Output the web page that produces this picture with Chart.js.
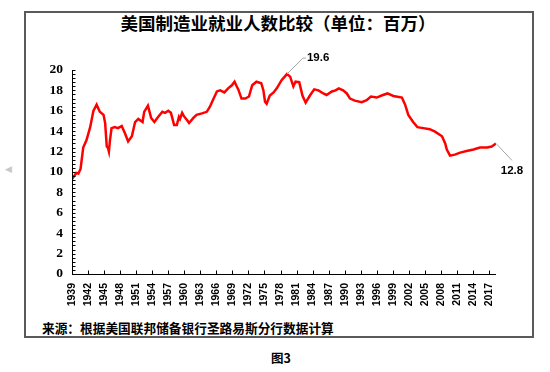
<!DOCTYPE html>
<html>
<head>
<meta charset="utf-8">
<script src="https://cdn.jsdelivr.net/npm/chart.js@4/dist/chart.umd.min.js"></script>
<style>
  html, body { margin:0; padding:0; background:#fff; }
  #wrap { position:relative; width:550px; height:372px; overflow:hidden; }
  #box { position:absolute; left:24px; top:11px; width:506px; height:323px; border:2px solid #5a5a5a; }
  #chart { position:absolute; left:0; top:0; }
  .t { position:absolute; white-space:nowrap; color:#000; }
  #title { left:0; width:556px; top:11px; text-align:center; font:700 17.5px "Noto Sans CJK SC", sans-serif; line-height:24px; }
  #src { left:42px; top:319px; font:700 12.7px "Noto Sans CJK SC", sans-serif; line-height:18px; }
  #cap { left:271px; top:350px; font:700 12.5px "Noto Sans CJK SC", sans-serif; line-height:16px; }
  #tri { left:5px; top:164px; font:9px "DejaVu Sans", sans-serif; color:#c8c8c8; }
</style>
</head>
<body>
<div id="wrap">
  <div id="box"></div>
  <div class="t" id="title">美国制造业就业人数比较（单位：百万）</div>
  <div class="t" id="src">来源：根据美国联邦储备银行圣路易斯分行数据计算</div>
  <div class="t" id="cap">图3</div>
  <div class="t" id="tri">◀</div>
  <canvas id="chart" width="550" height="372"></canvas>
</div>
<script>
// ---- data ----
const years = [
  1939.0,1939.4,1939.8,1940.2,1940.6,1941.1,1941.7,1942.4,1943.0,1943.6,
  1944.2,1944.9,1945.2,1945.5,1945.7,1945.9,1946.1,1946.4,1947.0,1947.6,
  1948.3,1948.9,1949.5,1950.2,1950.8,1951.4,1952.2,1952.5,1953.2,1953.8,
  1954.4,1955.1,1955.9,1956.4,1957.0,1957.5,1958.1,1958.6,1959.0,1959.2,
  1959.6,1959.9,1960.5,1960.9,1961.7,1962.3,1963.3,1964.2,1964.8,1965.4,
  1966.1,1966.7,1967.5,1968.2,1968.9,1969.4,1969.8,1970.1,1970.7,1971.4,
  1972.1,1972.7,1973.5,1974.4,1974.8,1975.1,1975.4,1976.0,1976.7,1977.3,
  1978.2,1979.2,1979.8,1980.4,1980.8,1981.5,1982.1,1982.7,1983.5,1984.3,
  1985.1,1986.0,1986.6,1987.6,1988.3,1988.9,1989.7,1990.4,1991.0,1991.9,
  1993.2,1994.1,1994.9,1996.0,1996.9,1998.0,1999.1,2000.7,2001.3,2001.9,
  2002.8,2003.6,2004.7,2005.9,2006.9,2008.2,2008.8,2009.1,2009.7,2010.6,
  2011.6,2012.8,2014.1,2015.3,2016.6,2017.5,2018.3
];
const values = [
  9.3,9.6,9.9,9.85,10.3,12.4,13.1,14.4,16.0,16.6,
  15.9,15.6,14.8,12.5,12.4,12.0,13.1,14.3,14.4,14.3,
  14.5,13.8,13.0,13.5,14.9,15.2,14.9,15.9,16.5,15.3,
  14.9,15.4,15.9,15.8,16.0,15.8,14.6,14.6,15.4,15.2,
  15.8,15.5,15.1,14.8,15.3,15.6,15.75,15.9,16.4,17.1,
  17.9,18.0,17.8,18.2,18.5,18.85,18.4,18.1,17.2,17.2,
  17.4,18.5,18.85,18.7,18.0,16.9,16.7,17.5,17.8,18.2,
  19.0,19.6,19.35,18.4,18.85,18.8,17.5,16.8,17.5,18.1,
  18.0,17.7,17.55,17.9,18.0,18.2,18.0,17.7,17.2,17.0,
  16.85,17.05,17.4,17.3,17.5,17.7,17.45,17.3,16.6,15.6,
  14.9,14.4,14.3,14.2,13.95,13.5,12.8,12.2,11.6,11.7,
  11.9,12.06,12.2,12.4,12.4,12.5,12.8
];
const xTickYears = [1939,1942,1945,1948,1951,1954,1957,1960,1963,1966,1969,1972,1975,1978,1981,1984,1987,1990,1993,1996,1999,2002,2005,2008,2011,2014,2017];
const yMajorTicks = [0,2,4,6,8,10,12,14,16,18,20];
const yMinorStep = 0.4;

const points = years.map((x, i) => ({ x: x, y: values[i] }));
const peakIdx = values.indexOf(Math.max(...values));
const lastIdx = values.length - 1;

const insideTicks = {
  id: 'insideTicks',
  afterDatasetsDraw(chart) {
    const { ctx, scales: { x, y }, chartArea: a } = chart;
    ctx.save();
    ctx.strokeStyle = '#000';
    ctx.lineWidth = 1;
    ctx.beginPath();
    ctx.moveTo(Math.round(a.left) + 0.5, a.top);
    ctx.lineTo(Math.round(a.left) + 0.5, a.bottom);
    ctx.moveTo(a.left, Math.round(a.bottom) + 0.5);
    ctx.lineTo(a.right, Math.round(a.bottom) + 0.5);
    for (let v = 0; v <= 20.001; v += yMinorStep) {
      const py = Math.round(y.getPixelForValue(v)) + 0.5;
      ctx.moveTo(a.left, py); ctx.lineTo(a.left + 3.5, py);
    }
    xTickYears.forEach(t => {
      const px = Math.round(x.getPixelForValue(t)) + 0.5;
      ctx.moveTo(px, a.bottom); ctx.lineTo(px, a.bottom - 3.5);
    });
    ctx.stroke();

    ctx.font = 'bold 11.5px "Liberation Sans", sans-serif';
    ctx.fillStyle = '#000';
    ctx.strokeStyle = '#a6a6a6';
    ctx.lineWidth = 1;
    const p1x = x.getPixelForValue(years[peakIdx]), p1y = y.getPixelForValue(values[peakIdx]);
    ctx.beginPath();
    ctx.moveTo(p1x, p1y);
    ctx.lineTo(p1x + 16, p1y - 16);
    ctx.lineTo(p1x + 19, p1y - 16);
    ctx.stroke();
    ctx.textAlign = 'left'; ctx.textBaseline = 'middle';
    ctx.fillText(values[peakIdx].toFixed(1), p1x + 20, p1y - 16.5);
    const p2x = x.getPixelForValue(years[lastIdx]), p2y = y.getPixelForValue(values[lastIdx]);
    ctx.beginPath();
    ctx.moveTo(p2x, p2y);
    ctx.lineTo(p2x + 16, p2y + 17);
    ctx.stroke();
    ctx.textAlign = 'center';
    ctx.fillText(values[lastIdx].toFixed(1), p2x + 16, p2y + 27);
    ctx.restore();
  }
};

new Chart(document.getElementById('chart'), {
  type: 'line',
  data: {
    datasets: [{
      data: points,
      borderColor: '#ff0000',
      borderWidth: 2.5,
      pointRadius: 0,
      tension: 0,
      fill: false
    }]
  },
  options: {
    responsive: false,
    animation: false,
    events: [],
    layout: { padding: { left: 0, top: 70, right: 54, bottom: 58 } },
    plugins: { legend: { display: false }, tooltip: { enabled: false }, title: { display: false } },
    scales: {
      x: {
        type: 'linear',
        min: 1939,
        max: 2018.3,
        afterFit(s) { s.height = 40; },
        grid: { display: false, drawTicks: false },
        border: { display: false },
        afterBuildTicks(s) { s.ticks = xTickYears.map(v => ({ value: v })); },
        ticks: {
          autoSkip: false,
          minRotation: 90,
          maxRotation: 90,
          padding: 9,
          color: '#000',
          font: { family: '"Liberation Sans", Arial, sans-serif', size: 10.5, weight: 'bold' },
          callback: v => String(v)
        }
      },
      y: {
        min: 0,
        max: 20,
        afterFit(s) { s.width = 72; },
        grid: { display: false, drawTicks: false },
        border: { display: false },
        afterBuildTicks(s) { s.ticks = yMajorTicks.map(v => ({ value: v })); },
        ticks: {
          padding: 9,
          color: '#000',
          font: { family: '"Liberation Serif", "Times New Roman", serif', size: 13.5, weight: 'bold' }
        }
      }
    }
  },
  plugins: [insideTicks]
});
</script>
</body>
</html>
